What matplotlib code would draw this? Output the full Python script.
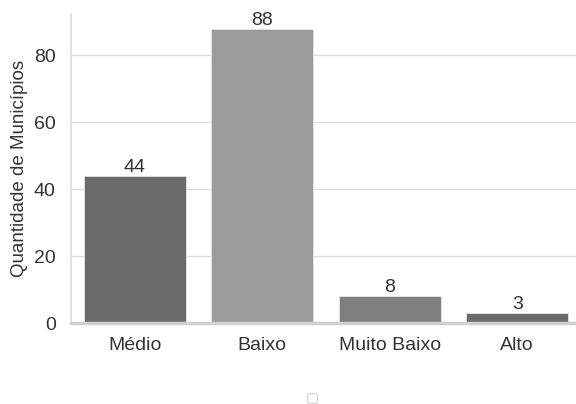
import matplotlib
matplotlib.use("Agg")
import matplotlib.pyplot as plt
import seaborn as sns

categorias = ["Médio", "Baixo", "Muito Baixo", "Alto"]
quantidades = [44, 88, 8, 3]
cores = ["#6a6a6a", "#9b9b9b", "#7f7f7f", "#6a6a6a"]

sns.set_theme(style="whitegrid")
plt.rcParams["font.family"] = ["Liberation Sans", "DejaVu Sans"]

texto = "#333333"

fig = plt.figure(figsize=(5.76, 4.04), dpi=100)
ax = fig.add_axes([71 / 576, 81 / 404, 510 / 576, 309 / 404])

x = range(len(categorias))
bars = ax.bar(x, quantidades, width=0.8, color=cores, edgecolor="#e6e6e6",
              linewidth=0.6, zorder=2)
ax.set_xlim(-0.5, 3.5)
ax.set_ylim(0, max(quantidades) * 1.05)
ax.set_xticks(list(x))
ax.set_xticklabels(categorias, fontsize=14, color=texto)
ax.set_yticks([0, 20, 40, 60, 80])
ax.tick_params(axis="y", labelsize=14, labelcolor=texto, pad=5)
ax.tick_params(axis="x", pad=4)
ax.set_ylabel("Quantidade de Municípios", fontsize=13.5, color=texto,
              labelpad=4)
ax.grid(axis="x", visible=False)
ax.grid(axis="y", color="#dddddd", linewidth=1.0, zorder=0)
ax.set_axisbelow(True)

for s in ["top", "right"]:
    ax.spines[s].set_visible(False)
ax.spines["left"].set_color("#dddddd")
ax.spines["left"].set_linewidth(1.2)
ax.spines["bottom"].set_color("#d0d0d0")
ax.spines["bottom"].set_linewidth(2.5)

for b, v in zip(bars, quantidades):
    ax.text(b.get_x() + b.get_width() / 2, v, str(v), ha="center", va="bottom",
            fontsize=14, color=texto)

ax.legend(handles=[], loc="upper center", bbox_to_anchor=(0.473, -0.205),
          frameon=True, fontsize=9)

fig.savefig("out.png", dpi=100)
